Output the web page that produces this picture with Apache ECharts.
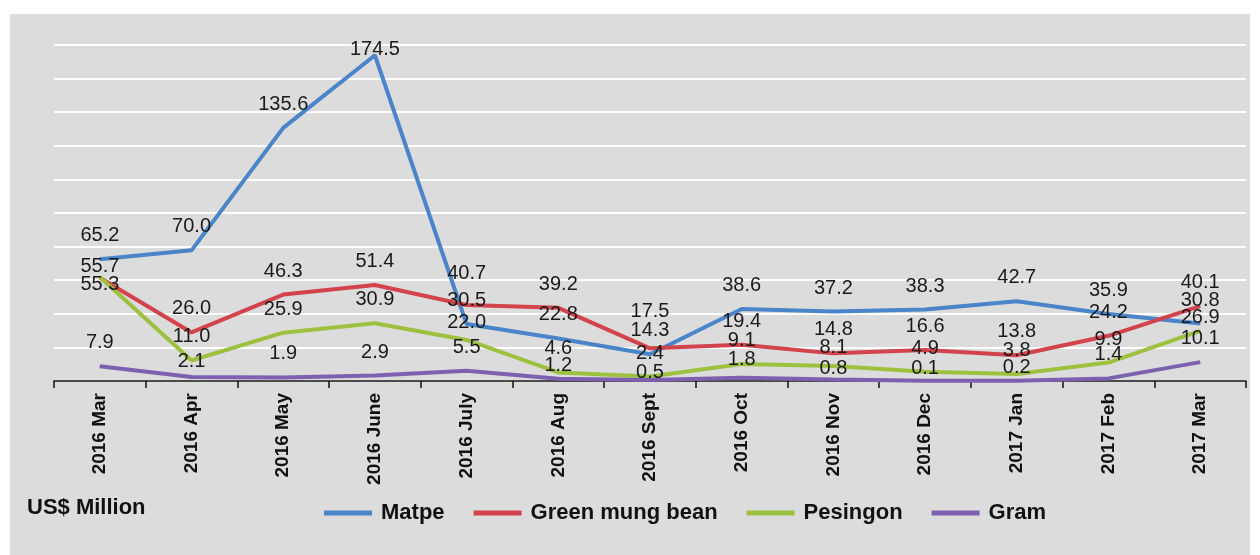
<!DOCTYPE html>
<html>
<head>
<meta charset="utf-8">
<title>Pulses exports</title>
<script src="https://cdn.jsdelivr.net/npm/echarts@6/dist/echarts.min.js"></script>
<style>
  html, body { margin: 0; padding: 0; background: #fff; }
  #main { width: 1260px; height: 555px; }
</style>
</head>
<body>
<div id="main"></div>
<script>
// months on the x axis
const months = ['2016 Mar', '2016 Apr', '2016 May', '2016 June', '2016 July', '2016 Aug',
  '2016 Sept', '2016 Oct', '2016 Nov', '2016 Dec', '2017 Jan', '2017 Feb', '2017 Mar']

// US$ million
const matpe = [65.2, 70.0, 135.6, 174.5, 30.5, 22.8, 14.3, 38.6, 37.2, 38.3, 42.7, 35.9, 30.8]
const greenMungBean = [55.3, 26.0, 46.3, 51.4, 40.7, 39.2, 17.5, 19.4, 14.8, 16.6, 13.8, 24.2, 40.1]
const pesingon = [55.7, 11.0, 25.9, 30.9, 22.0, 4.6, 2.4, 9.1, 8.1, 4.9, 3.8, 9.9, 26.9]
const gram = [7.9, 2.1, 1.9, 2.9, 5.5, 1.2, 0.5, 1.8, 0.8, 0.1, 0.2, 1.4, 10.1]

// small vertical pushes (px) so labels sit where they do in the original, keyed by month index
const labelNudge = {
  Matpe: { 3: 18 },
  'Green mung bean': { 0: 30, 4: -8, 6: -13 },
  Pesingon: { 0: 13, 4: 6, 8: 5, 12: 10 },
  Gram: { 1: 8, 5: 10, 6: 16, 7: 5, 8: 12, 9: 11, 10: 10 }
}

const chart = echarts.init(document.getElementById('main'))

// same look for every line
function lineSeries (name, data, color) {
  const nudge = labelNudge[name] || {}
  return {
    name: name,
    type: 'line',
    data: data.map((v, i) => nudge[i] ? { value: v, label: { offset: [0, nudge[i]] } } : v),
    symbol: 'circle',
    symbolSize: 1,
    showSymbol: true,
    lineStyle: { width: 4, color: color },
    itemStyle: { color: color },
    label: {
      show: true,
      position: 'top',
      distance: 13,
      color: '#1a1a1a',
      fontFamily: 'Liberation Sans, Arial',
      fontSize: 20,
      formatter: p => p.value.toFixed(1)
    }
  }
}

chart.setOption({
  backgroundColor: '#fff',
  animation: false,
  graphic: [
    {
      type: 'rect',
      z: -10,
      shape: { x: 10, y: 14, width: 1240, height: 541 },
      style: { fill: '#dcdcdc' }
    },
    {
      type: 'text',
      left: 27,
      top: 497,
      style: {
        text: 'US$ Million',
        fontFamily: 'Liberation Sans, Arial',
        fontWeight: 'bold',
        fontSize: 22,
        fill: '#111'
      }
    }
  ],
  grid: { left: 54, right: 14, top: 45, bottom: 174 },
  legend: {
    left: 319,
    top: 497,
    icon: 'rect',
    itemWidth: 48,
    itemHeight: 5,
    itemGap: 29,
    textStyle: {
      fontFamily: 'Liberation Sans, Arial',
      fontWeight: 'bold',
      fontSize: 22,
      color: '#111',
      padding: [0, 0, 0, 4]
    },
    data: ['Matpe', 'Green mung bean', 'Pesingon', 'Gram']
  },
  xAxis: {
    type: 'category',
    data: months,
    boundaryGap: true,
    axisLine: { lineStyle: { color: '#111', width: 1.5 } },
    axisTick: { show: true, length: 7, lineStyle: { color: '#111', width: 1.5 } },
    axisLabel: {
      rotate: 90,
      margin: 12,
      color: '#111',
      fontFamily: 'Liberation Sans, Arial',
      fontWeight: 'bold',
      fontSize: 19,
      interval: 0
    }
  },
  yAxis: {
    type: 'value',
    min: 0,
    max: 180,
    interval: 18,
    axisLabel: { show: false },
    axisLine: { show: false },
    axisTick: { show: false },
    splitLine: { lineStyle: { color: '#ffffff', width: 2 } }
  },
  series: [
    lineSeries('Matpe', matpe, '#4a84c9'),
    lineSeries('Green mung bean', greenMungBean, '#d2434c'),
    lineSeries('Pesingon', pesingon, '#9dc13f'),
    lineSeries('Gram', gram, '#7e60b0')
  ]
})
</script>
</body>
</html>
